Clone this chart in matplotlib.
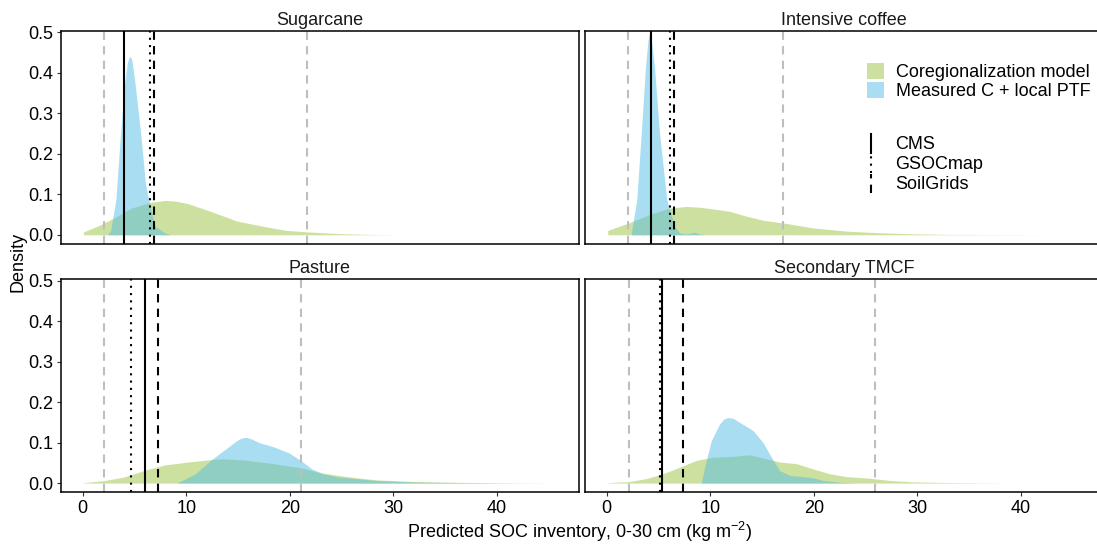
import matplotlib
matplotlib.use("Agg")
import matplotlib.pyplot as plt
from matplotlib.lines import Line2D
from matplotlib.patches import Patch
from matplotlib.legend_handler import HandlerBase

plt.rcParams['font.family'] = ['Liberation Sans', 'DejaVu Sans']
plt.rcParams['mathtext.fontset'] = 'custom'
plt.rcParams['mathtext.rm'] = 'Liberation Sans'

# land uses, one facet each
panels = ["Sugarcane", "Intensive coffee", "Pasture", "Secondary TMCF"]

# density curves: coregionalization model (green) and measured C + local PTF (blue)
sugarcane_coreg_x = [0.07, 1.4, 2.9, 4.71, 6.53, 7.98, 9.0, 10.16, 12.34, 14.88, 17.42, 19.6, 21.77, 24.67, 27.6, 30.1]
sugarcane_coreg_y = [0.007, 0.021, 0.04, 0.066, 0.08, 0.085, 0.083, 0.077, 0.058, 0.034, 0.021, 0.011, 0.007, 0.003, 0.001, 0.0]
sugarcane_meas_x = [2.4, 2.7, 3.2, 3.65, 4.05, 4.3, 4.5, 4.65, 4.75, 5.05, 5.6, 6.05, 6.5, 7.0, 7.9, 8.5]
sugarcane_meas_y = [0.0, 0.012, 0.087, 0.25, 0.374, 0.425, 0.44, 0.438, 0.43, 0.374, 0.25, 0.128, 0.07, 0.021, 0.005, 0.0]

coffee_coreg_x = [0.1, 2.2, 4.13, 6.06, 7.68, 9.0, 10.25, 11.87, 13.48, 15.09, 17.35, 19.92, 23.15, 26.37, 29.6, 32.8, 38.0, 43.1]
coffee_coreg_y = [0.011, 0.03, 0.05, 0.066, 0.07, 0.068, 0.064, 0.058, 0.046, 0.036, 0.028, 0.017, 0.009, 0.005, 0.0025, 0.001, 0.0004, 0.0]
coffee_meas_x = [2.35, 2.9, 3.33, 3.74, 3.98, 4.13, 4.3, 4.61, 5.1, 5.8, 6.55, 7.03, 7.6, 8.1, 8.48, 8.9, 9.5]
coffee_meas_y = [0.0, 0.087, 0.25, 0.415, 0.48, 0.50, 0.485, 0.415, 0.25, 0.087, 0.021, 0.005, 0.002, 0.004, 0.006, 0.002, 0.0]

pasture_coreg_x = [0.07, 2.17, 3.99, 6.16, 7.98, 10.16, 12.0, 13.42, 15.6, 18.14, 21.04, 22.86, 24.68, 26.5, 28.3, 31.9, 35.6, 39.2, 45.5]
pasture_coreg_y = [0.001, 0.0066, 0.015, 0.033, 0.045, 0.052, 0.057, 0.06, 0.057, 0.049, 0.038, 0.026, 0.019, 0.013, 0.008, 0.004, 0.002, 0.001, 0.0]
pasture_meas_x = [9.07, 10.88, 12.34, 13.79, 14.88, 15.3, 15.79, 16.3, 17.05, 18.5, 19.96, 21.04, 22.13, 23.22, 24.68, 28.3, 31.93, 37.4, 42.1]
pasture_meas_y = [0.0, 0.023, 0.056, 0.084, 0.105, 0.111, 0.113, 0.109, 0.10, 0.089, 0.074, 0.056, 0.035, 0.023, 0.015, 0.0066, 0.0025, 0.001, 0.0]

tmcf_coreg_x = [0.1, 2.2, 3.81, 5.42, 7.03, 8.65, 10.25, 12.19, 13.8, 15.41, 16.7, 18.32, 19.93, 21.54, 23.15, 25.4, 27.3, 29.6, 32.8, 38.4]
tmcf_coreg_y = [0.001, 0.004, 0.011, 0.023, 0.039, 0.056, 0.064, 0.066, 0.07, 0.06, 0.052, 0.048, 0.035, 0.023, 0.016, 0.012, 0.0066, 0.003, 0.0015, 0.0]
tmcf_meas_x = [9.13, 9.45, 10.1, 10.9, 11.3, 11.7, 12.2, 12.83, 14.12, 15.09, 15.9, 16.7, 17.67, 18.96, 19.92, 20.89, 22.5, 24.1]
tmcf_meas_y = [0.0, 0.039, 0.105, 0.146, 0.158, 0.162, 0.160, 0.15, 0.13, 0.10, 0.064, 0.031, 0.019, 0.016, 0.013, 0.0066, 0.002, 0.0]

# reference map values per land use
cms = [3.99, 4.23, 6.06, 5.35]
gsocmap = [6.53, 6.13, 4.64, 5.13]
soilgrids = [6.89, 6.48, 7.25, 7.32]
grey_low = [2.10, 2.03, 2.10, 2.16]
grey_high = [21.66, 16.99, 21.08, 25.90]

coreg = [(sugarcane_coreg_x, sugarcane_coreg_y), (coffee_coreg_x, coffee_coreg_y),
         (pasture_coreg_x, pasture_coreg_y), (tmcf_coreg_x, tmcf_coreg_y)]
meas = [(sugarcane_meas_x, sugarcane_meas_y), (coffee_meas_x, coffee_meas_y),
        (pasture_meas_x, pasture_meas_y), (tmcf_meas_x, tmcf_meas_y)]

green = '#9BC541'
blue = '#55BDE5'
grey = '#BEBEBE'
lw = 1.5


class HandlerVLine(HandlerBase):
    # legend key drawn as a short vertical line
    def create_artists(self, legend, orig_handle, xdescent, ydescent,
                       width, height, fontsize, trans):
        x = -xdescent + width / 2
        line = Line2D([x, x], [-ydescent - 1, -ydescent + height + 1])
        self.update_prop(line, orig_handle, legend)
        line.set_transform(trans)
        return [line]


fig = plt.figure(figsize=(10.97, 5.44), dpi=100)
W, H = 1097, 544
lefts = [61, 585, 61, 585]
tops = [30.7, 30.7, 279, 279]
pw, ph = 517.7, 213.4

axes = []
for i, name in enumerate(panels):
    ax = fig.add_axes([lefts[i] / W, 1 - (tops[i] + ph) / H, pw / W, ph / H])
    axes.append(ax)
    cx, cy = coreg[i]
    mx, my = meas[i]
    ax.fill_between(cx, cy, 0, color=green, alpha=0.5, linewidth=0)
    ax.fill_between(mx, my, 0, color=blue, alpha=0.5, linewidth=0)

    ax.axvline(grey_low[i], color=grey, lw=lw, dashes=(4, 3))
    ax.axvline(grey_high[i], color=grey, lw=lw, dashes=(4, 3))
    ax.axvline(cms[i], color='black', lw=lw)
    ax.axvline(gsocmap[i], color='black', lw=lw, dashes=(1, 2.5))
    ax.axvline(soilgrids[i], color='black', lw=lw, dashes=(4, 3))

    ax.set_xlim(-2.1, 47.9)
    ax.set_ylim(-0.023, 0.504)
    ax.set_xticks([0, 10, 20, 30, 40])
    ax.set_yticks([0.0, 0.1, 0.2, 0.3, 0.4, 0.5])
    ax.set_yticklabels(['0.0', '0.1', '0.2', '0.3', '0.4', '0.5'])
    for s in ax.spines.values():
        s.set_linewidth(1.1)
        s.set_color('black')
    ax.tick_params(length=3, width=0.8, color='#333333', labelsize=13,
                   labelcolor='black', pad=2.5)
    if i < 2:
        ax.tick_params(axis='x', bottom=False, labelbottom=False)
    if i % 2 == 1:
        ax.tick_params(axis='y', left=False, labelleft=False)
    ax.set_title(name, fontsize=13, pad=4, color='#1A1A1A')

fig.text(18 / W, 1 - 261.5 / H, 'Density', rotation=90, fontsize=13,
         ha='center', va='center')
fig.text(580 / W, 1 - 532 / H,
         r'Predicted SOC inventory, 0-30 cm (kg $\mathregular{m^{-2}}$)',
         fontsize=13, ha='center', va='center')

# legends inside the coffee panel
fill_handles = [Patch(facecolor=green, alpha=0.5, edgecolor='none'),
                Patch(facecolor=blue, alpha=0.5, edgecolor='none')]
leg1 = fig.legend(fill_handles, ['Coregionalization model', 'Measured C + local PTF'],
                  loc='upper left', bbox_to_anchor=(866.7 / W, 1 - 63 / H),
                  frameon=False, fontsize=13, borderpad=0, borderaxespad=0,
                  handlelength=0.95, handleheight=1.0, handletextpad=0.65,
                  labelspacing=0.05)

line_handles = [Line2D([], [], color='black', lw=lw),
                Line2D([], [], color='black', lw=lw, dashes=(1, 2.5)),
                Line2D([], [], color='black', lw=lw, dashes=(4, 3))]
leg2 = fig.legend(line_handles, ['CMS', 'GSOCmap', 'SoilGrids'],
                  loc='upper left', bbox_to_anchor=(866 / W, 1 - 135 / H),
                  frameon=False, fontsize=13, borderpad=0, borderaxespad=0,
                  handlelength=0.55, handleheight=1.0, handletextpad=1.05,
                  labelspacing=0.1,
                  handler_map={Line2D: HandlerVLine()})

fig.savefig('out.png', dpi=100)
